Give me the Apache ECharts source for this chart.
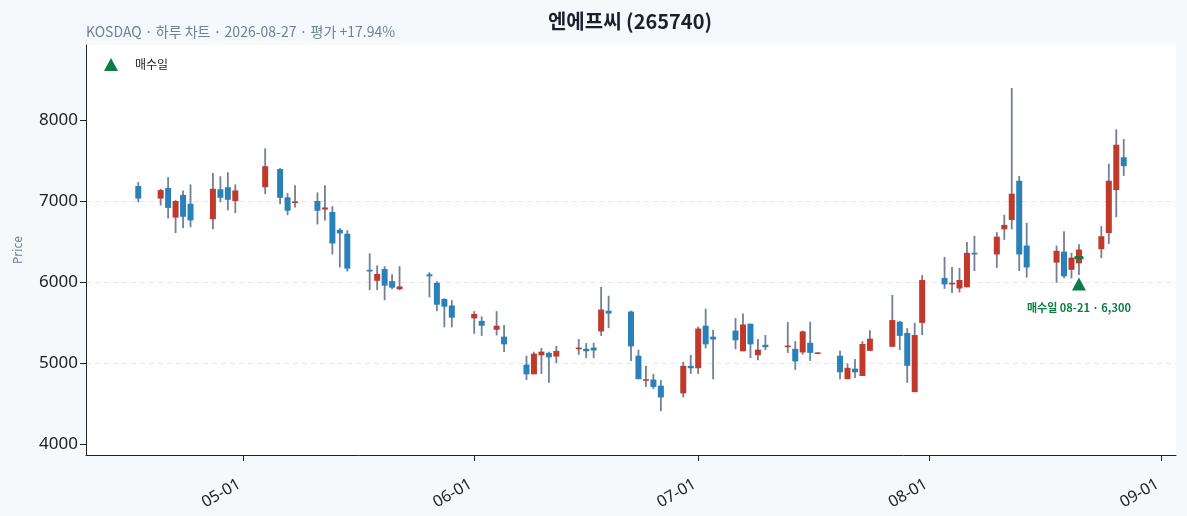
<!DOCTYPE html>
<html lang="ko">
<head>
    <meta charset="UTF-8">
    <title>엔에프씨 (265740)</title>
    <script src="https://cdn.jsdelivr.net/npm/echarts@6.0.0/dist/echarts.min.js"></script>
    <style>
        html, body { margin: 0; padding: 0; background: #f6f9fc; }
        #main { width: 1187px; height: 516px; }
    </style>
</head>
<body>
    <div id="main"></div>
    <script>
        // 일봉 데이터
        var dates = [
            '2026-04-17','2026-04-20','2026-04-21','2026-04-22','2026-04-23','2026-04-24','2026-04-27','2026-04-28','2026-04-29','2026-04-30',
            '2026-05-04','2026-05-06','2026-05-07','2026-05-08','2026-05-11','2026-05-12','2026-05-13','2026-05-14','2026-05-15',
            '2026-05-18','2026-05-19','2026-05-20','2026-05-21','2026-05-22','2026-05-26','2026-05-27','2026-05-28','2026-05-29',
            '2026-06-01','2026-06-02','2026-06-04','2026-06-05','2026-06-08','2026-06-09','2026-06-10','2026-06-11','2026-06-12',
            '2026-06-15','2026-06-16','2026-06-17','2026-06-18','2026-06-19','2026-06-22','2026-06-23','2026-06-24','2026-06-25','2026-06-26',
            '2026-06-29','2026-06-30','2026-07-01','2026-07-02','2026-07-03','2026-07-06','2026-07-07','2026-07-08','2026-07-09','2026-07-10',
            '2026-07-13','2026-07-14','2026-07-15','2026-07-16','2026-07-17','2026-07-20','2026-07-21','2026-07-22','2026-07-23','2026-07-24',
            '2026-07-27','2026-07-28','2026-07-29','2026-07-30','2026-07-31','2026-08-03','2026-08-04','2026-08-05','2026-08-06','2026-08-07',
            '2026-08-10','2026-08-11','2026-08-12','2026-08-13','2026-08-14','2026-08-18','2026-08-19','2026-08-20','2026-08-21',
            '2026-08-24','2026-08-25','2026-08-26','2026-08-27'
        ];
        var opens = [
            7185,7030,7160,6795,7075,6965,6775,7145,7170,7000,
            7170,7395,7045,6975,7000,6895,6865,6645,6595,
            6150,6015,6160,6010,5910,6095,5990,5790,5710,
            5550,5520,5410,5325,4980,4860,5095,5125,5080,
            5170,5175,5190,5390,5645,5635,5090,4785,4795,4720,
            4625,4965,4935,5460,5325,5400,5145,5485,5095,5225,
            5195,5175,5130,5250,5122,5090,4800,4930,4840,5150,
            5200,5510,5370,4640,5495,6050,5970,5920,5935,6360,
            6340,6650,6765,7250,6450,6240,6375,6150,6230,
            6405,6605,7135,7540
        ];
        var closes = [
            7030,7135,6915,7000,6805,6760,7150,7040,7015,7130,
            7430,7040,6880,6995,6880,6920,6475,6600,6165,
            6130,6100,5955,5930,5945,6070,5720,5695,5560,
            5605,5460,5460,5230,4860,5115,5140,5070,5150,
            5190,5145,5155,5660,5610,5205,4800,4800,4705,4575,
            4965,4935,5425,5230,5290,5280,5475,5230,5165,5195,
            5215,5020,5390,5125,5130,4885,4940,4885,5235,5300,
            5530,5335,4965,5345,6025,5970,5990,6025,6360,6340,
            6560,6705,7090,6340,6180,6385,6070,6300,6400,
            6565,7250,7695,7430
        ];
        var lows = [
            6985,6945,6785,6605,6665,6675,6650,6985,6885,6850,
            7085,6960,6825,6920,6710,6760,6340,6180,6130,
            5900,5900,5775,5910,5900,5810,5640,5440,5440,
            5360,5335,5340,5135,4790,4860,4865,4755,5000,
            5100,5060,5060,5335,5430,5025,4800,4705,4680,4405,
            4575,4865,4865,5180,4800,5170,5145,5060,5035,5160,
            5125,4915,5105,5025,5120,4800,4800,4815,4840,5150,
            5200,5160,4755,4640,5345,5915,5865,5870,5935,6135,
            6175,6520,6650,6135,6055,5990,6045,6045,6085,
            6295,6470,6800,7310
        ];
        var highs = [
            7235,7150,7295,7010,7130,7205,7345,7305,7355,7205,
            7650,7405,7095,7195,7105,7195,6935,6665,6640,
            6355,6205,6195,6095,6195,6120,6010,5800,5775,
            5640,5575,5640,5470,5090,5140,5185,5140,5210,
            5295,5245,5250,5940,5830,5645,5165,4965,4865,4790,
            5015,5100,5450,5670,5410,5555,5610,5485,5295,5345,
            5505,5270,5400,5510,5132,5150,4995,5050,5270,5405,
            5840,5520,5430,5495,6085,6310,6185,6175,6495,6570,
            6615,6830,8395,7310,6730,6450,6625,6360,6465,
            6690,7460,7885,7765
        ];

        // 매수일 표시
        var buyDate = '2026-08-21';
        var buyPrice = 6300;
        var buyMarkerY = 5975;   // 삼각형 위치 (저가 아래)

        var yTicks = [4000, 5000, 6000, 7000, 8000];
        var xTicks = ['2026-05-01', '2026-06-01', '2026-07-01', '2026-08-01', '2026-09-01'];

        var RED = '#c0392b', BLUE = '#2a80b9', WICK = '#718096', GREEN = '#0e7c45';
        var FONT = "'Noto Sans', 'Noto Sans CJK KR', sans-serif";
        var FONT_KR = "'Noto Sans CJK KR', 'Noto Sans', sans-serif";

        function ts(s) {
            var p = s.split('-');
            return new Date(+p[0], +p[1] - 1, +p[2]).getTime();
        }

        var candleData = dates.map(function (d, i) {
            return [ts(d), opens[i], closes[i], lows[i], highs[i]];
        });

        function renderCandle(params, api) {
            var x = api.value(0);
            var o = api.value(1), c = api.value(2), l = api.value(3), h = api.value(4);
            var pO = api.coord([x, o]);
            var pC = api.coord([x, c]);
            var pL = api.coord([x, l]);
            var pH = api.coord([x, h]);
            var w = 6;
            var top = Math.min(pO[1], pC[1]);
            var hgt = Math.max(Math.abs(pO[1] - pC[1]), 1.6);
            return {
                type: 'group',
                children: [
                    { type: 'line', shape: { x1: pH[0], y1: pH[1], x2: pL[0], y2: pL[1] },
                      style: { stroke: WICK, lineWidth: 1.8 } },
                    { type: 'rect', shape: { x: pO[0] - w / 2, y: top, width: w, height: hgt },
                      style: { fill: c >= o ? RED : BLUE } }
                ]
            };
        }

        var chart = echarts.init(document.getElementById('main'));

        var option = {
            backgroundColor: '#f6f9fc',
            animation: false,
            textStyle: { fontFamily: FONT },
            title: {
                text: '엔에프씨 (265740)',
                left: 625,
                textAlign: 'center',
                top: 6,
                textStyle: { fontSize: 20, fontWeight: 'bold', color: '#1a202c', fontFamily: FONT_KR }
            },
            graphic: [{
                type: 'text',
                left: 86,
                top: 25,
                style: {
                    text: 'KOSDAQ · 하루 차트 · 2026-08-27 · 평가 +17.94%',
                    fontSize: 14,
                    fill: '#718096',
                    fontFamily: FONT_KR
                }
            }],
            legend: {
                data: ['매수일'],
                left: 99,
                top: 53,
                itemWidth: 14,
                itemHeight: 13,
                textStyle: { fontSize: 12, color: '#222', padding: [0, 0, 0, 12], fontFamily: FONT_KR }
            },
            grid: {
                left: 86,
                right: 11,
                top: 45,
                bottom: 61,
                show: true,
                backgroundColor: '#ffffff',
                borderWidth: 0
            },
            xAxis: {
                type: 'value',
                min: ts('2026-04-10'),
                max: ts('2026-09-03'),
                axisLine: { lineStyle: { color: '#222', width: 1 } },
                axisTick: { show: true, length: 6, customValues: xTicks.map(ts), lineStyle: { color: '#222' } },
                axisLabel: {
                    customValues: xTicks.map(ts),
                    rotate: 30,
                    fontSize: 16,
                    color: '#222',
                    margin: 26,
                    padding: [0, 4, 0, 0],
                    formatter: function (v) {
                        var d = new Date(v);
                        var m = d.getMonth() + 1, dd = d.getDate();
                        return (m < 10 ? '0' : '') + m + '-' + (dd < 10 ? '0' : '') + dd;
                    }
                },
                splitLine: { show: false }
            },
            yAxis: {
                type: 'value',
                min: 3864,
                max: 8926,
                name: 'Price',
                nameLocation: 'middle',
                nameGap: 61,
                nameTextStyle: { fontSize: 12, color: '#718096' },
                axisLine: { show: true, lineStyle: { color: '#222', width: 1 } },
                axisTick: { show: true, length: 6, customValues: yTicks, lineStyle: { color: '#222' } },
                axisLabel: {
                    customValues: yTicks,
                    fontSize: 17,
                    color: '#222',
                    margin: 8,
                    formatter: function (v) { return String(v); }
                },
                splitLine: {
                    show: true,
                    showMinLine: false,
                    showMaxLine: false,
                    lineStyle: { color: '#e6e6e6', type: [5, 4], width: 1 }
                }
            },
            series: [
                {
                    name: '일봉',
                    type: 'custom',
                    renderItem: renderCandle,
                    encode: { x: 0, y: [1, 2, 3, 4] },
                    data: candleData,
                    z: 2
                },
                {
                    name: '매수가',
                    type: 'scatter',
                    symbol: 'rect',
                    symbolSize: [9, 3],
                    itemStyle: { color: GREEN, opacity: 1 },
                    data: [[ts(buyDate), buyPrice]],
                    silent: true,
                    z: 5
                },
                {
                    name: '매수일',
                    type: 'scatter',
                    symbol: 'triangle',
                    symbolSize: [14, 13],
                    itemStyle: { color: GREEN, opacity: 1 },
                    data: [[ts(buyDate), buyMarkerY]],
                    label: {
                        show: true,
                        position: 'bottom',
                        distance: 12,
                        formatter: '매수일 08-21 · 6,300',
                        fontSize: 11,
                        fontWeight: 'bold',
                        color: GREEN,
                        fontFamily: FONT_KR
                    },
                    z: 5
                }
            ]
        };

        chart.setOption(option);
    </script>
</body>
</html>
